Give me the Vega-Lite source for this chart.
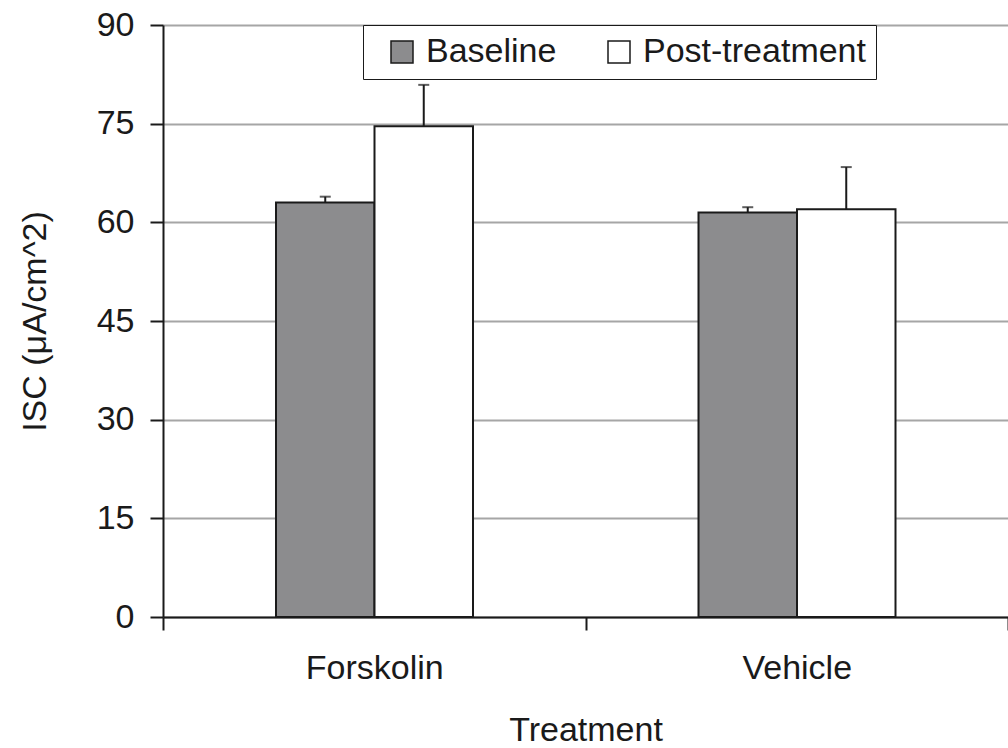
{
  "$schema": "https://vega.github.io/schema/vega-lite/v6.json",
  "width": 845,
  "height": 592,
  "autosize": {"type": "none"},
  "padding": {"left": 163, "top": 25, "right": 0, "bottom": 131},
  "background": "white",
  "config": {
    "view": {"stroke": null},
    "font": "Liberation Sans",
    "axis": {"labelFont": "Liberation Sans", "titleFont": "Liberation Sans", "labelColor": "#1a1a1a", "titleColor": "#1a1a1a", "titleFontWeight": "normal"}
  },
  "data": {
    "values": [
      {"treatment": "Forskolin", "series": "Baseline", "value": 63.0, "upper": 63.9},
      {"treatment": "Forskolin", "series": "Post-treatment", "value": 74.6, "upper": 80.9},
      {"treatment": "Vehicle", "series": "Baseline", "value": 61.5, "upper": 62.3},
      {"treatment": "Vehicle", "series": "Post-treatment", "value": 62.0, "upper": 68.4}
    ]
  },
  "encoding": {
    "x": {
      "field": "treatment", "type": "nominal",
      "scale": {"paddingInner": 0, "paddingOuter": 0},
      "axis": {"title": "Treatment", "labelAngle": 0, "tickBand": "extent", "grid": false,
               "domainColor": "#1a1a1a", "domainWidth": 2, "tickColor": "#1a1a1a", "tickWidth": 2, "tickSize": 13,
               "labelFontSize": 34, "titleFontSize": 34, "labelPadding": 21, "titlePadding": 28}
    },
    "xOffset": {"field": "series", "type": "nominal", "sort": ["Baseline", "Post-treatment"],
                "scale": {"range": [113, 310], "paddingInner": 0, "paddingOuter": 0}}
  },
  "layer": [
    {
      "mark": {"type": "bar", "stroke": "#1a1a1a", "strokeWidth": 2},
      "encoding": {
        "y": {"field": "value", "type": "quantitative",
              "scale": {"domain": [0, 90]},
              "axis": {"title": "ISC (μA/cm^2)", "values": [0, 15, 30, 45, 60, 75, 90],
                       "grid": true, "gridColor": "#a6a6a6", "gridWidth": 2,
                       "domainColor": "#1a1a1a", "domainWidth": 2, "tickColor": "#1a1a1a", "tickWidth": 2, "tickSize": 13,
                       "labelFontSize": 34, "titleFontSize": 34, "labelPadding": 16, "titlePadding": 44}},
        "fill": {"field": "series", "type": "nominal", "sort": ["Baseline", "Post-treatment"],
                 "scale": {"domain": ["Baseline", "Post-treatment"], "range": ["#8c8c8e", "#ffffff"]},
                 "legend": {"title": null, "orient": "none", "legendX": 200, "legendY": 0, "direction": "horizontal",
                            "fillColor": "white", "strokeColor": "#1a1a1a", "padding": 10, "symbolOffset": 12,
                            "symbolType": "square", "symbolSize": 484, "symbolStrokeColor": "#1a1a1a", "symbolStrokeWidth": 1.5,
                            "labelFontSize": 34, "labelColor": "#1a1a1a", "labelOffset": 7, "labelLimit": 500, "columnPadding": 33, "labelFont": "Liberation Sans"}}
      }
    },
    {
      "mark": {"type": "rule", "color": "#1a1a1a", "strokeWidth": 2},
      "encoding": {
        "y": {"field": "value", "type": "quantitative"},
        "y2": {"field": "upper"}
      }
    },
    {
      "mark": {"type": "tick", "color": "#1a1a1a", "thickness": 2, "size": 11, "orient": "horizontal"},
      "encoding": {
        "y": {"field": "upper", "type": "quantitative"}
      }
    }
  ]
}
